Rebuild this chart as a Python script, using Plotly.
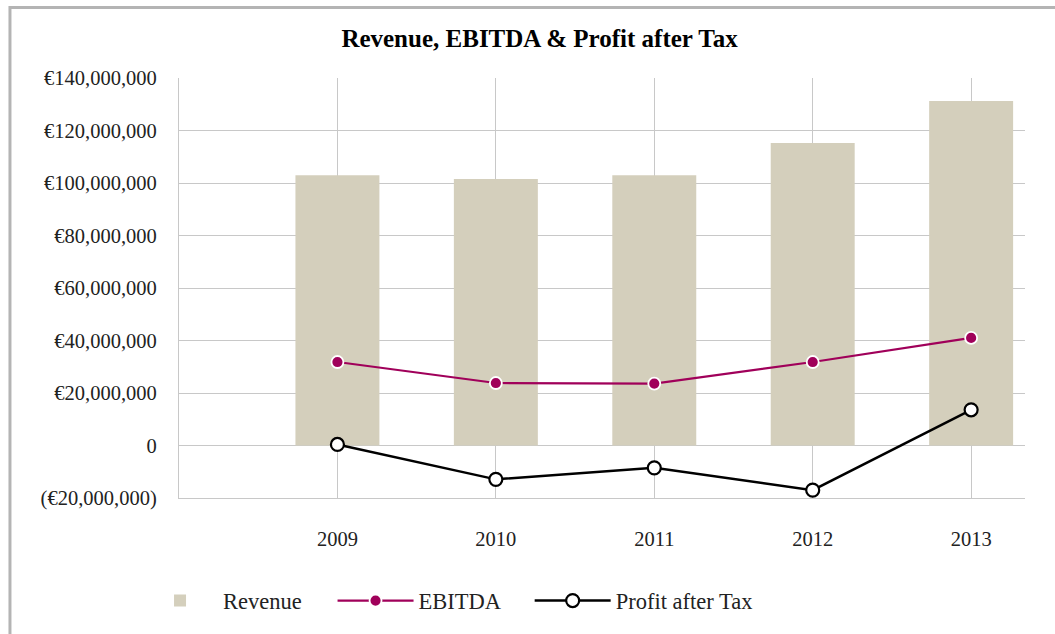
import plotly.graph_objects as go

years = ["2009", "2010", "2011", "2012", "2013"]
revenue = [103.0e6, 101.5e6, 103.0e6, 115.2e6, 131.2e6]
ebitda = [31.8e6, 23.8e6, 23.6e6, 31.8e6, 41.0e6]
profit = [0.4e6, -12.9e6, -8.5e6, -17.0e6, 13.6e6]

y_tickvals = [-20e6, 0, 20e6, 40e6, 60e6, 80e6, 100e6, 120e6, 140e6]
y_ticktext = ["(€20,000,000)", "0", "€20,000,000", "€40,000,000", "€60,000,000",
              "€80,000,000", "€100,000,000", "€120,000,000", "€140,000,000"]

FONT = "Liberation Serif"
GRID = "#C8C8C8"

fig = go.Figure()
fig.add_trace(go.Bar(x=years, y=revenue, name="Revenue", marker_color="#D4CFBC",
                     marker_line_width=0, width=0.53, legend="legend"))
fig.add_trace(go.Scatter(x=years, y=ebitda, name="EBITDA", mode="lines+markers",
                         line=dict(color="#A0005A", width=2.2),
                         marker=dict(size=12, color="#A0005A",
                                     line=dict(color="white", width=1.8)),
                         legend="legend2"))
fig.add_trace(go.Scatter(x=years, y=profit, name="Profit after Tax", mode="lines+markers",
                         line=dict(color="black", width=2.5),
                         marker=dict(size=13, color="white",
                                     line=dict(color="black", width=2.2)),
                         legend="legend3"))

def leg(x):
    return dict(orientation="h", x=x, xanchor="left", y=-0.245, yanchor="middle",
                font=dict(family=FONT, size=22.5, color="#222222"), itemwidth=76,
                bgcolor="rgba(0,0,0,0)")

fig.update_layout(
    width=1055, height=634,
    margin=dict(l=179, r=30, t=78, b=134),
    paper_bgcolor="white", plot_bgcolor="white",
    font=dict(family=FONT, size=20.5, color="#222222"),
    title=dict(text="<b>Revenue, EBITDA & Profit after Tax</b>", x=0.5114, xanchor="center",
               y=0.94, yanchor="middle", font=dict(family=FONT, size=25, color="black")),
    showlegend=True,
    legend=leg(-0.0496),
    legend2=leg(0.1815),
    legend3=leg(0.4145),
    xaxis=dict(type="category", range=[-1, 4.34], showgrid=True, gridcolor=GRID, gridwidth=1.3,
               showline=True, linecolor=GRID, linewidth=1.3, ticks="outside", ticklen=22,
               tickcolor="rgba(0,0,0,0)", zeroline=False, fixedrange=True),
    yaxis=dict(range=[-20e6, 140e6], tickvals=y_tickvals, ticktext=y_ticktext,
               showgrid=True, gridcolor=GRID, gridwidth=1.3, zeroline=False,
               showline=True, linecolor=GRID, linewidth=1.3, ticks="outside", ticklen=17,
               tickcolor="rgba(0,0,0,0)", fixedrange=True),
    shapes=[dict(type="rect", xref="paper", yref="paper", x0=-0.1998, x1=1.2, y0=-0.5, y1=1.168,
                 line=dict(color="#B4B4B4", width=3), layer="below")],
)

fig.write_html("out.html", config={"displayModeBar": False},
               post_script="document.body.style.margin='0px';")
